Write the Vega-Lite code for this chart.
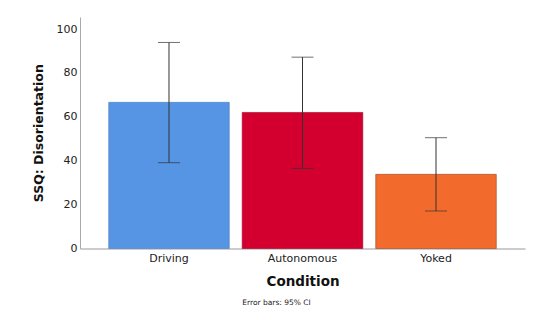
{
  "$schema": "https://vega.github.io/schema/vega-lite/v6.json",
  "autosize": "none",
  "width": 445,
  "height": 231.5,
  "padding": {"left": 80, "top": 17, "right": 8, "bottom": 71.5},
  "background": "white",
  "config": {
    "view": {"stroke": null},
    "font": "DejaVu Sans",
    "axis": {"grid": false, "domainColor": "#888888", "ticks": false, "labelColor": "#222222", "titleColor": "#111111"}
  },
  "title": {"text": "Error bars: 95% CI", "orient": "bottom", "fontSize": 7.5, "fontWeight": "normal", "color": "#222222", "dx": -26, "offset": 11},
  "data": {
    "values": [
      {"Condition": "Driving", "mean": 66.6, "lo": 39.1, "hi": 93.9, "c": "Driving"},
      {"Condition": "Autonomous", "mean": 62.0, "lo": 36.5, "hi": 87.2, "c": "Autonomous"},
      {"Condition": "Yoked", "mean": 33.8, "lo": 17.1, "hi": 50.5, "c": "Yoked"}
    ]
  },
  "encoding": {
    "x": {
      "field": "Condition", "type": "nominal", "sort": ["Driving", "Autonomous", "Yoked"],
      "scale": {"paddingInner": 0.097, "paddingOuter": 0.215},
      "axis": {"labelAngle": 0, "labelFontSize": 11, "labelPadding": 4, "title": "Condition", "titleFontSize": 13.5, "titleFontWeight": "bold", "titlePadding": 11, "domainColor": "#999999"}
    }
  },
  "layer": [
    {
      "mark": {"type": "bar", "strokeWidth": 1, "strokeOpacity": 0.6},
      "encoding": {
        "y": {
          "field": "mean", "type": "quantitative",
          "scale": {"domain": [0, 105.5], "nice": false},
          "axis": {"values": [0, 20, 40, 60, 80, 100], "labelFontSize": 11, "labelPadding": 3, "title": "SSQ: Disorientation", "titleFontSize": 12.5, "titleFontWeight": "bold", "titlePadding": 11, "domainColor": "#aaaaaa"}
        },
        "color": {
          "field": "c", "type": "nominal", "legend": null,
          "scale": {"domain": ["Driving", "Autonomous", "Yoked"], "range": ["#5694E4", "#D3002F", "#F26A2C"]}
        },
        "stroke": {
          "field": "c", "type": "nominal", "legend": null,
          "scale": {"domain": ["Driving", "Autonomous", "Yoked"], "range": ["#4a7fc4", "#9e0024", "#a04620"]}
        }
      }
    },
    {
      "mark": {"type": "rule", "color": "#333333", "strokeWidth": 1},
      "encoding": {
        "y": {"field": "lo", "type": "quantitative"},
        "y2": {"field": "hi"}
      }
    },
    {
      "mark": {"type": "tick", "color": "#333333", "size": 22, "thickness": 1, "orient": "horizontal"},
      "encoding": {"y": {"field": "hi", "type": "quantitative"}}
    },
    {
      "mark": {"type": "tick", "color": "#333333", "size": 22, "thickness": 1, "orient": "horizontal"},
      "encoding": {"y": {"field": "lo", "type": "quantitative"}}
    }
  ]
}
